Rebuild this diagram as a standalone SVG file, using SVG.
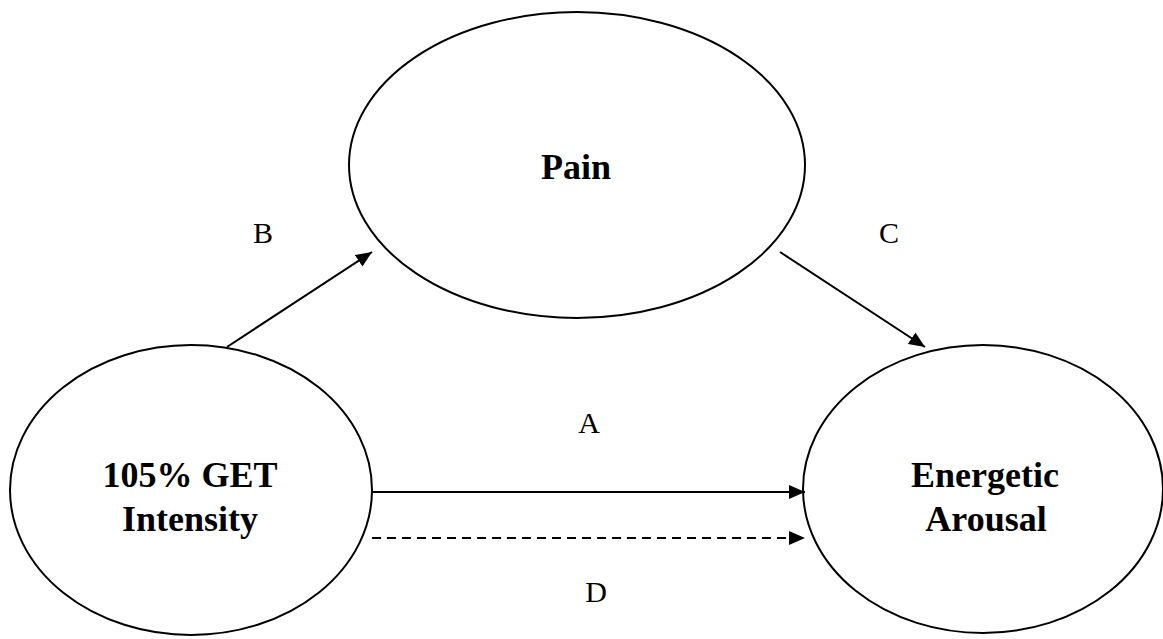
<svg xmlns="http://www.w3.org/2000/svg" width="1163" height="639" viewBox="0 0 1163 639">
<style>
.node{fill:#fff;stroke:#000;stroke-width:2}
.big{font-family:"Liberation Serif","Times New Roman",serif;font-weight:bold;font-size:36px;text-anchor:middle;fill:#000}
.lab{font-family:"Liberation Serif","Times New Roman",serif;font-size:30px;text-anchor:middle;fill:#000}
.edge{stroke:#000;stroke-width:2;fill:none}
</style>
<defs>
<marker id="arr" viewBox="0 0 16 14" refX="16" refY="7" markerWidth="16" markerHeight="14" markerUnits="userSpaceOnUse" orient="auto">
<path d="M0,0 L16,7 L0,14 Z" fill="#000"/>
</marker>
</defs>
<rect width="1163" height="639" fill="#fff"/>
<g id="node-pain">
<ellipse class="node" cx="577" cy="165" rx="228" ry="153"/>
<text class="big" x="576" y="179">Pain</text>
</g>
<g id="node-get">
<ellipse class="node" cx="191" cy="490" rx="181" ry="145"/>
<text class="big" x="190" y="487">105% GET</text>
<text class="big" x="190" y="531">Intensity</text>
</g>
<g id="node-arousal">
<ellipse class="node" cx="983" cy="489" rx="180" ry="144"/>
<text class="big" x="985" y="487">Energetic</text>
<text class="big" x="986" y="531">Arousal</text>
</g>
<g id="connectors">
<line class="edge" x1="227" y1="347" x2="372" y2="252" marker-end="url(#arr)"/>
<line class="edge" x1="780" y1="252" x2="925" y2="347" marker-end="url(#arr)"/>
<line class="edge" x1="372" y1="492" x2="805" y2="492" marker-end="url(#arr)"/>
<line class="edge" x1="372" y1="538" x2="805" y2="538" stroke-dasharray="9,6" marker-end="url(#arr)"/>
<text class="lab" x="263" y="243">B</text>
<text class="lab" x="889" y="243">C</text>
<text class="lab" x="589" y="433">A</text>
<text class="lab" x="596" y="602">D</text>
</g>
</svg>
